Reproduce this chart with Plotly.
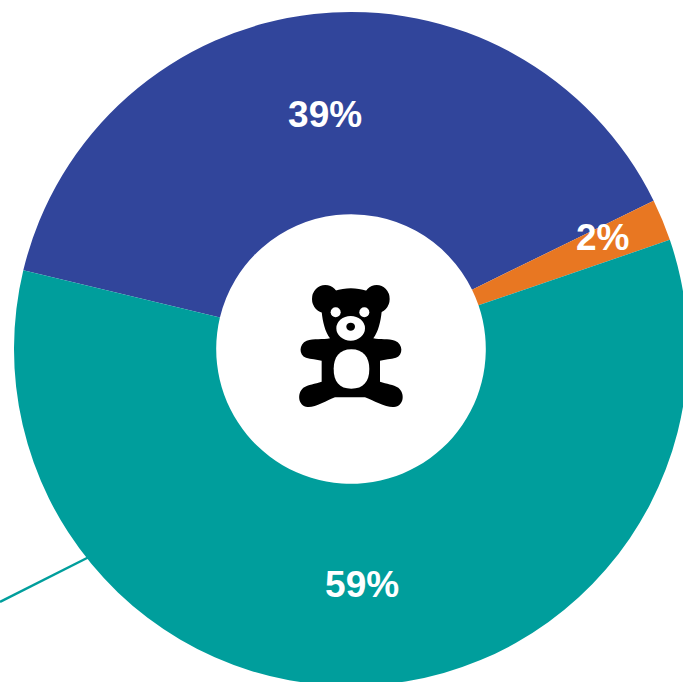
import plotly.graph_objects as go

labels = ["A", "B", "C"]
values = [39, 2, 59]
colors = ["#31459B", "#E87722", "#009E9C"]
slice_text = ["39%", "", "59%"]
small_label = "2%"

W, H = 702, 698
CX, CY, R = 351, 349, 337

def px(x):
    return x / W
def py(y):
    return 1 - y / H
def zx(x):
    return 280 + x / 3
def zy(y):
    return 270 + y / 3
def P(x, y):
    return f"{px(zx(x)):.5f},{py(zy(y)):.5f}"

def smooth_path(cmds):
    out = []
    for c in cmds:
        if c[0] == "M":
            out.append("M" + P(c[1], c[2]))
        elif c[0] == "C":
            out.append("C" + " ".join(P(c[i], c[i + 1]) for i in (1, 3, 5)))
        elif c[0] == "L":
            out.append("L" + P(c[1], c[2]))
    return " ".join(out) + " Z"

bear = [
    ("M", 165, 62),
    ("C", 195, 52, 230, 52, 260, 62),
    ("L", 305, 125),
    ("C", 302, 155, 295, 185, 280, 205),
    ("C", 300, 210, 325, 205, 345, 212),
    ("C", 370, 222, 370, 255, 348, 263),
    ("C", 332, 268, 315, 268, 300, 272),
    ("L", 300, 335),
    ("C", 320, 342, 340, 343, 355, 353),
    ("C", 376, 370, 372, 408, 342, 411),
    ("C", 318, 413, 280, 392, 255, 382),
    ("L", 165, 382),
    ("C", 140, 392, 105, 413, 83, 411),
    ("C", 54, 408, 50, 370, 70, 353),
    ("C", 85, 343, 105, 342, 125, 335),
    ("L", 125, 272),
    ("C", 110, 268, 93, 268, 78, 263),
    ("C", 56, 255, 56, 222, 80, 212),
    ("C", 100, 205, 130, 210, 150, 205),
    ("C", 135, 185, 128, 155, 125, 125),
]

belly = [
    ("M", 214, 238),
    ("C", 250, 238, 268, 262, 268, 297),
    ("C", 268, 335, 250, 356, 214, 356),
    ("C", 178, 356, 161, 335, 161, 297),
    ("C", 161, 262, 178, 238, 214, 238),
]

def ellipse(cx, cy, rx, ry, fill):
    return dict(type="circle", xref="paper", yref="paper",
                x0=px(zx(cx - rx)), x1=px(zx(cx + rx)),
                y0=py(zy(cy + ry)), y1=py(zy(cy - ry)),
                fillcolor=fill, line_width=0, layer="above")

shapes = [
    dict(type="line", xref="paper", yref="paper",
         x0=px(0), y0=py(602), x1=px(90), y1=py(556.5),
         line=dict(color=colors[2], width=2.5), layer="below"),
    ellipse(136, 87, 40, 42, "#000000"),
    ellipse(290, 87, 39, 42, "#000000"),
    dict(type="path", xref="paper", yref="paper", path=smooth_path(bear),
         fillcolor="#000000", line_width=0, layer="above"),
    ellipse(167, 127, 15, 15, "#FFFFFF"),
    ellipse(253, 127, 15, 15, "#FFFFFF"),
    ellipse(212, 175, 43, 37, "#FFFFFF"),
    ellipse(212, 170, 13, 12, "#000000"),
    dict(type="path", xref="paper", yref="paper", path=smooth_path(belly),
         fillcolor="#FFFFFF", line_width=0, layer="above"),
]

fig = go.Figure(go.Pie(
    labels=labels, values=values, text=slice_text, textinfo="text",
    textposition="inside", insidetextorientation="horizontal",
    insidetextfont=dict(family="Liberation Sans", size=37, color="#FFFFFF", weight="bold"),
    hole=0.4, sort=False, direction="clockwise", rotation=283.5,
    marker=dict(colors=colors, line=dict(width=0)),
    domain=dict(x=[0, 1], y=[1 - (CY + R) / H, 1 - (CY - R) / H]),
    showlegend=False,
))

fig.update_layout(
    width=W, height=H, margin=dict(l=0, r=0, t=0, b=0, pad=0),
    paper_bgcolor="#FFFFFF", shapes=shapes,
    annotations=[dict(text=small_label, xref="paper", yref="paper",
                      x=px(602.5), y=py(237), showarrow=False,
                      xanchor="center", yanchor="middle",
                      font=dict(family="Liberation Sans", size=37, color="#FFFFFF", weight="bold"))],
)

fig.write_html("out.html", config=dict(displayModeBar=False),
               post_script="document.body.style.margin='0';document.documentElement.style.overflow='hidden';document.body.style.overflow='hidden';")
